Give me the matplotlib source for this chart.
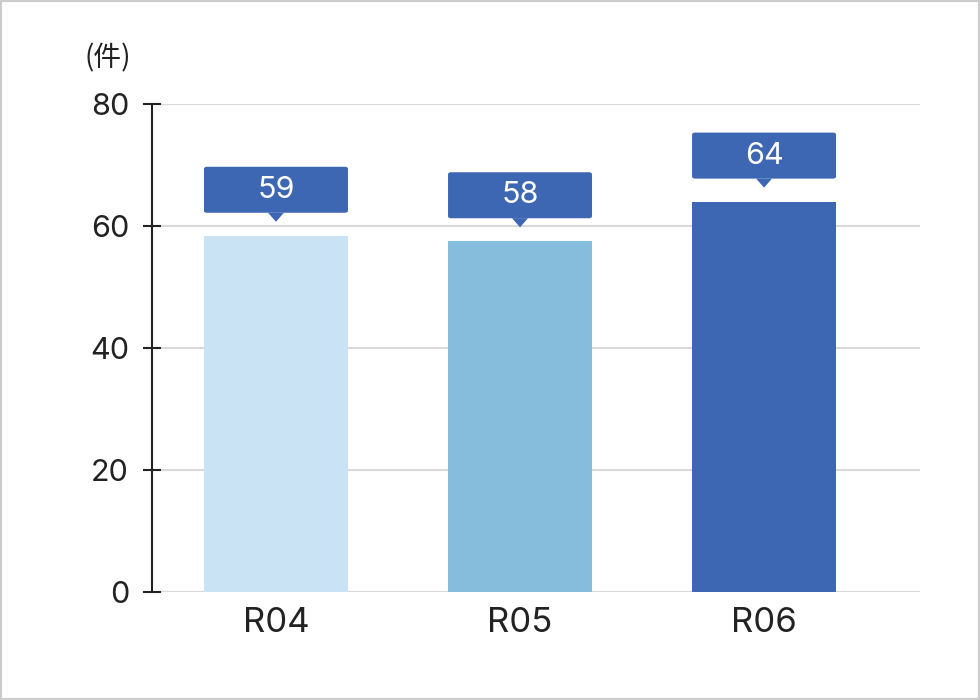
import matplotlib
matplotlib.use("Agg")
import matplotlib.pyplot as plt
from matplotlib.patches import FancyBboxPatch, Polygon, Rectangle

categories = ["R04", "R05", "R06"]
values = [58.4, 57.5, 64.0]
labels = ["59", "58", "64"]
colors = ["#CAE3F4", "#86BCDC", "#3D66B3"]
yticks = [0, 20, 40, 60, 80]
unit_label = "(件)"

LATIN = "Inter"
W, H = 980, 700
fig = plt.figure(figsize=(W / 100, H / 100), dpi=100)
ax = fig.add_axes([152 / W, 1 - 592 / H, (920 - 152) / W, (592 - 104) / H])

x = list(range(len(categories)))
bw = 0.59
ax.bar(x, values, width=bw, color=colors, zorder=2)
ax.set_xlim(-0.508, 2.639)
ax.set_ylim(0, 80)

for t in yticks:
    ax.axhline(t, xmin=10 / 768, xmax=1, color="#d9d9d9", lw=1.5, zorder=1)

for s in ["top", "right", "bottom"]:
    ax.spines[s].set_visible(False)
ax.spines["left"].set_color("#222222")
ax.spines["left"].set_linewidth(1.5)
ax.set_yticks(yticks)
ax.set_yticklabels([str(t) for t in yticks], fontsize=22, color="#222222",
                   family=LATIN)
ax.tick_params(axis="y", direction="inout", length=13, width=1.5,
               color="#222222", pad=10)
ax.set_xticks(x)
ax.set_xticklabels(categories, fontsize=25, color="#222222", family=LATIN)
ax.tick_params(axis="x", length=0, pad=11)

px_y = 80 / (592 - 104)
px_x = (2.639 + 0.508) / (920 - 152)

box_h = 46 * px_y
gap = 23 * px_y
tri_h = 9 * px_y
tri_w = 8 * px_x
for xi, v, lab in zip(x, values, labels):
    y0 = v + gap
    box = FancyBboxPatch((xi - bw / 2, y0), bw, box_h,
                         boxstyle="round,pad=0,rounding_size=0.012",
                         mutation_aspect=box_h / bw * 2.2,
                         fc="#3D66B3", ec="none", zorder=3, clip_on=False)
    ax.add_patch(box)
    tri = Polygon([(xi - tri_w, y0 + 0.01), (xi + tri_w, y0 + 0.01), (xi, y0 - tri_h)],
                  closed=True, fc="#3D66B3", ec="none", zorder=3, clip_on=False)
    ax.add_patch(tri)
    ax.text(xi, y0 + box_h / 2, lab, ha="center", va="center", color="white",
            fontsize=22, family=LATIN, zorder=4)

fig.text(84 / W, 1 - 58 / H, unit_label, ha="left", va="center", fontsize=20,
         color="#222222", family=["Noto Sans CJK JP", "DejaVu Sans"])

fig.patches.append(Rectangle((0, 0), 1, 1, transform=fig.transFigure,
                             fill=False, ec="#cccccc", lw=3))

fig.savefig("out.png", dpi=100)
